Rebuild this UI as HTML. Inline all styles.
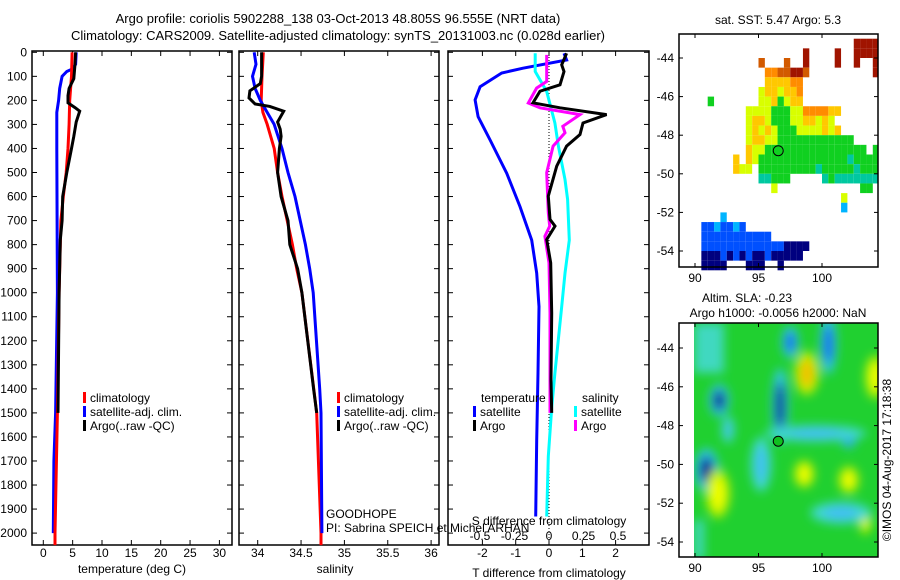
<!DOCTYPE html>
<html><head><meta charset="utf-8"><title>Argo profile</title>
<style>
html,body{margin:0;padding:0;background:#fff;}
svg{display:block;font-family:"Liberation Sans",sans-serif;}
text{font-size:12px;fill:#000;}
</style></head>
<body>
<svg id="fig" width="900" height="580" viewBox="0 0 900 580">
<defs>
<filter id="blur" x="-50%" y="-50%" width="200%" height="200%"><feGaussianBlur stdDeviation="5"/></filter>
<clipPath id="clipM2"><rect x="694" y="323" width="184" height="234"/></clipPath>
</defs>
<text x="338" y="23" text-anchor="middle" style="font-size:13px">Argo profile: coriolis 5902288_138 03-Oct-2013 48.805S 96.555E (NRT data)</text>
<text x="338" y="40" text-anchor="middle" style="font-size:13px">Climatology: CARS2009. Satellite-adjusted climatology: synTS_20131003.nc (0.028d earlier)</text>
<g id="plots"></g>
<text x="778" y="24" text-anchor="middle">sat. SST: 5.47 Argo: 5.3</text>
<text x="747" y="302" text-anchor="middle">Altim. SLA: -0.23</text>
<text x="778" y="317" text-anchor="middle">Argo h1000: -0.0056 h2000: NaN</text>
<text transform="translate(891,460) rotate(-90)" text-anchor="middle">©IMOS 04-Aug-2017 17:18:38</text>
</svg>
<script>
// ---- data ----
const depthTicks = [0,100,200,300,400,500,600,700,800,900,1000,1100,1200,1300,1400,1500,1600,1700,1800,1900,2000];
const tempTicks = [0,5,10,15,20,25,30];
const salTicks = [34,34.5,35,35.5,36];
const tdiffTicks = [-2,-1,0,1,2];
const sdiffTicks = [-0.5,-0.25,0,0.25,0.5];
const sdiffLabels = ["-0.5","-0.25","0","0.25","0.5"];

const tClimDepth = [0,100,200,300,400,500,600,700,800,1000,1500,2000,2050];
const tClimVal   = [4.9,4.8,4.5,4.4,4.2,3.9,3.4,3.0,2.9,2.7,2.4,2.0,2.0];
const tSatDepth  = [0,50,70,80,100,150,200,250,400,1000,1500,1700,2000];
const tSatVal    = [5.6,5.5,4.9,4.0,3.2,2.8,2.6,2.3,2.3,2.4,2.1,1.8,1.7];
const tArgoDepth = [0,50,110,150,180,210,230,245,290,350,400,500,600,700,780,1000,1500];
const tArgoVal   = [5.5,5.4,5.2,4.4,4.2,4.2,5.4,6.2,5.6,5.2,4.8,4.0,3.3,3.2,2.9,2.7,2.5];

const sClimDepth = [0,100,200,250,300,400,500,600,700,800,900,1000,1500,2000,2050];
const sClimVal   = [34.065,34.05,34.04,34.06,34.11,34.19,34.23,34.28,34.34,34.40,34.45,34.51,34.68,34.73,34.73];
const sSatDepth  = [0,50,100,150,200,250,300,400,500,600,700,800,900,1000,1400,1500,2000];
const sSatVal    = [33.96,33.98,33.94,33.97,34.03,34.11,34.19,34.28,34.35,34.43,34.49,34.55,34.60,34.64,34.715,34.73,34.74];
const sArgoDepth = [0,100,130,160,190,215,225,245,290,320,350,400,500,600,700,800,900,1000,1400,1500];
const sArgoVal   = [34.045,34.045,34.03,33.91,33.90,33.97,34.14,34.30,34.23,34.26,34.27,34.25,34.23,34.27,34.35,34.37,34.46,34.51,34.645,34.68];

const dtSatDepth = [4,32,66,86,143,198,268,365,503,642,781,919,1058,1335,1613,1931];
const dtSatVal   = [0.45,0.53,-0.78,-1.42,-2.07,-2.22,-2.13,-1.77,-1.27,-0.87,-0.52,-0.37,-0.30,-0.33,-0.37,-0.40];
const dtArgoDepth = [4,52,80,135,162,210,231,259,294,342,390,474,598,695,723,779,876,1085,1362,1500];
const dtArgoVal   = [0.53,0.38,0.45,0.33,-0.27,-0.48,0.33,1.73,1.02,0.93,0.53,0.23,-0.02,0.03,0.18,-0.07,0.05,0.08,0.06,0.08];
const dsArgoDepth = [11,121,149,211,231,259,308,335,390,501,668,723,765,876,1085,1500];
const dsArgoVal   = [-0.017,-0.017,-0.09,-0.15,-0.065,0.225,0.10,0.116,0.03,-0.017,-0.005,0.005,-0.03,0,0.007,0.007];
const dsSatDepth = [4,80,163,294,390,529,612,781,919,1058,1335,1473,1681,1931];
const dsSatVal   = [-0.1,-0.1,-0.017,0.043,0.068,0.116,0.135,0.147,0.116,0.092,0.043,0.02,-0.005,-0.017];

// SST map grid: rows lat -43 .. -55 step 0.5, cols lon 89 .. 104.5 step 0.5 ; '.' = no data, 0-9 colour index
const sstRows = [
"...........................9999",
"...................9....9..9999",
"............8...8..9....9..9..9",
".............7788998..........9",
".............666677............",
"............5665667............",
"....4.......5564566............",
"..........555544455777766......",
"..........56654445566565.......",
"..........565654445555656......",
"..........56655444444444444....",
"..........6554444444444444444.4",
"........6.654444444444444434444",
"........655.4444444443444443444",
"............33444.....343333333",
"..............5.............44.",
".........................5.....",
".........................2.....",
"......2........................",
"...1121121.....................",
"...11111111111.................",
"...11111111111110000...........",
"...0001010100100000............",
"...0000...000..0..............."
];
const sstColors = ["#00007f","#0050ff","#00b4ff","#00c8a0","#10d020","#d8ff00","#ffc800","#ff8c00","#d25a00","#a01400"];
const sstLat0 = -43, sstLon0 = 89, sstStep = 0.5;

// SLA map anomaly blobs: lon, lat, rx(deg), ry(deg), kind
const slaLon = [90.9,91.9,96.7,97.5,100.5,102.1,98.8,98.6,102.1,104.2,91.8,103.4,95.2,99.5,92.6,101.5];
const slaLat = [-50.3,-46.7,-47.0,-43.7,-43.8,-48.6,-45.3,-50.5,-50.8,-45.5,-51.5,-52.9,-50.0,-48.4,-48.2,-52.5];
const slaRx  = [0.6,0.5,0.4,0.4,0.4,0.4,0.6,0.5,0.5,0.5,0.6,0.3,0.5,2.5,0.3,1.5];
const slaRy  = [0.8,0.6,1.4,0.6,1.1,0.4,0.8,0.5,0.5,0.8,0.9,0.5,1.0,0.3,0.5,0.4];
const slaKind = ["deep","deep","deep","blue","blue","blue","warm","yellow","yellow","yellow","yellow","yellow","cyan","cyan","cyan","cyan"];

// ---- helpers ----
const NS = "http://www.w3.org/2000/svg";
const root = document.getElementById('plots');
function mk(tag, attrs, parent){ const e=document.createElementNS(NS,tag); for(const k in attrs) e.setAttribute(k,attrs[k]); (parent||root).appendChild(e); return e; }
function txt(x,y,s,anchor,parent){ const t=mk('text',{x:x,y:y,'text-anchor':anchor||'middle'},parent); t.textContent=s; return t; }

const top0 = 51, bot = 545;
function yD(d){ return 52.3 + d*0.2404; }
const xT = v => 43.3 + v*5.87;
const xS = v => 257.7 + (v-34)*86.7;
const xDT = v => 549 + v*33.3;
const xDS = v => 549 + v*138;

function frame(x0,x1,name){
  const r = mk('rect',{x:x0,y:top0,width:x1-x0,height:bot-top0,fill:'none',stroke:'#000','stroke-width':1.5});
  
  
  depthTicks.forEach(d=>{ mk('line',{x1:x0,x2:x0+5,y1:yD(d),y2:yD(d),stroke:'#000'}); mk('line',{x1:x1-5,x2:x1,y1:yD(d),y2:yD(d),stroke:'#000'}); });
}
function xticks(vals,fx,labels,ly,name){
  vals.forEach((v,i)=>{ const x=fx(v);
    mk('line',{x1:x,x2:x,y1:bot,y2:bot-5,stroke:'#000'}); mk('line',{x1:x,x2:x,y1:top0,y2:top0+5,stroke:'#000'});
    const t=txt(x,ly,labels?labels[i]:String(v));
    
    
  });
}
function line(depths,vals,fx,color,name){
  const pts = depths.map((d,i)=>fx(vals[i]).toFixed(1)+','+yD(d).toFixed(1)).join(' ');
  const p = mk('polyline',{points:pts,fill:'none',stroke:color,'stroke-width':3,'stroke-linejoin':'miter'});
  
  
}
function legendEntry(x,y,color,label,name){
  const g = mk('g',{});
  
  
  mk('rect',{x:x,y:y-10,width:3,height:11,fill:color},g);
  txt(x+7,y,label,'start',g);
}

// ---- panel 1: temperature ----
frame(32,232,'temperature-panel');
depthTicks.forEach(d=>{ const t=txt(27,yD(d)+4,String(d),'end');
  
   });
xticks(tempTicks,xT,null,557,'temperature');
const tt=txt(132,573,'temperature (deg C)');


line(tSatDepth,tSatVal,xT,'#0000ff','temp-satellite-clim-line');
line(tClimDepth,tClimVal,xT,'#ff0000','temp-climatology-line');
line(tArgoDepth,tArgoVal,xT,'#000000','temp-argo-line');
legendEntry(83,402,'#ff0000','climatology','temp-legend-climatology');
legendEntry(83,416,'#0000ff','satellite-adj. clim.','temp-legend-satellite');
legendEntry(83,430,'#000000','Argo(..raw -QC)','temp-legend-argo');

// ---- panel 2: salinity ----
frame(239,439,'salinity-panel');
xticks(salTicks,xS,null,557,'salinity');
const st=txt(335,573,'salinity');


line(sClimDepth,sClimVal,xS,'#ff0000','sal-climatology-line');
line(sSatDepth,sSatVal,xS,'#0000ff','sal-satellite-clim-line');
line(sArgoDepth,sArgoVal,xS,'#000000','sal-argo-line');
legendEntry(337,402,'#ff0000','climatology','sal-legend-climatology');
legendEntry(337,416,'#0000ff','satellite-adj. clim.','sal-legend-satellite');
legendEntry(337,430,'#000000','Argo(..raw -QC)','sal-legend-argo');

// ---- panel 3: differences ----
frame(448,649,'difference-panel');
mk('line',{x1:549,x2:549,y1:top0,y2:bot,stroke:'#000','stroke-dasharray':'1,2'});
tdiffTicks.forEach(v=>{ const x=xDT(v); mk('line',{x1:x,x2:x,y1:bot,y2:bot-5,stroke:'#000'}); mk('line',{x1:x,x2:x,y1:top0,y2:top0+5,stroke:'#000'});
  const t=txt(x,557,String(v));   });
sdiffTicks.forEach((v,i)=>{ const t=txt(xDS(v),540,sdiffLabels[i]);   });
line(dtSatDepth,dtSatVal,xDT,'#0000ff','tdiff-satellite-line');
line(dsSatDepth,dsSatVal,xDS,'#00ffff','sdiff-satellite-line');
line(dsArgoDepth,dsArgoVal,xDS,'#ff00ff','sdiff-argo-line');
line(dtArgoDepth,dtArgoVal,xDT,'#000000','tdiff-argo-line');
const lt=txt(481,402,'temperature','start');  
const ls=txt(582,402,'salinity','start');  
legendEntry(473,416,'#0000ff','satellite','legend-temp-satellite');
legendEntry(473,430,'#000000','Argo','legend-temp-argo');
legendEntry(574,416,'#00ffff','satellite','legend-sal-satellite');
legendEntry(574,430,'#ff00ff','Argo','legend-sal-argo');
const sd=txt(549,525,'S difference from climatology');  
const td=txt(549,577,'T difference from climatology');  
const gh=txt(326,518,'GOODHOPE','start');  
const pi=txt(326,532,'PI: Sabrina SPEICH et Michel ARHAN','start');  

// ---- maps ----
const mx0=679, mx1=878;
const mLon = v => 695 + (v-90)*12.7;
const m1Lat = v => 58 + (-44 - v)*19.3;
const m2Lat = v => 348 + (-44 - v)*19.4;
function mapAxes(y0,y1,fLat,name){
  const r=mk('rect',{x:mx0,y:y0,width:mx1-mx0,height:y1-y0,fill:'none',stroke:'#000','stroke-width':1.5});
  
  
  [-44,-46,-48,-50,-52,-54].forEach(l=>{ const y=fLat(l);
    mk('line',{x1:mx0,x2:mx0+4,y1:y,y2:y,stroke:'#000'}); mk('line',{x1:mx1-4,x2:mx1,y1:y,y2:y,stroke:'#000'});
    const t=txt(674,y+4,String(l),'end');   });
  [90,95,100].forEach(l=>{ const x=mLon(l);
    mk('line',{x1:x,x2:x,y1:y1,y2:y1-4,stroke:'#000'}); mk('line',{x1:x,x2:x,y1:y0,y2:y0+4,stroke:'#000'});
    const t=txt(x,y1+15,String(l));   });
}
// SST cells
sstRows.forEach((row,ri)=>{
  for(let ci=0; ci<row.length; ci++){
    const ch=row[ci]; if(ch==='.') continue;
    const lon=sstLon0+ci*sstStep, lat=sstLat0-ri*sstStep;
    const x=Math.max(mx0,mLon(lon)), xe=Math.min(mx1,mLon(lon+sstStep));
    const y=Math.max(34,m1Lat(lat)), ye=m1Lat(lat-sstStep);
    const c=mk('rect',{x:x,y:y,width:Math.max(0,xe-x),height:ye-y,fill:sstColors[+ch]});
    
    
  }
});
mapAxes(34,267,m1Lat,'sst-map');
const p1=mk('circle',{cx:mLon(96.555),cy:m1Lat(-48.805),r:5,fill:'#10d020',stroke:'#000'});



// SLA map
const slaBg=mk('rect',{x:694,y:323,width:184,height:234,fill:'#20d030'});


const g2=mk('g',{'clip-path':'url(#clipM2)'});
const gb=mk('g',{filter:'url(#blur)'},g2);
mk('rect',{x:694,y:323,width:30,height:50,fill:'#40d8c0'},gb);
mk('rect',{x:694,y:520,width:10,height:40,fill:'#40d8c0'},gb);
const outer={deep:'#30c8e8',blue:'#30c8e8',cyan:'#40d8d0',warm:'#c0f000',yellow:'#b8f000'};
const inner={deep:'#00008f',blue:'#1060f0',cyan:'#40c0f0',warm:'#f0c000',yellow:'#f0ff00'};
slaLon.forEach((lon,i)=>{
  const cx=mLon(lon), cy=m2Lat(slaLat[i]), rx=slaRx[i]*12.7, ry=slaRy[i]*19.4;
  const a=mk('ellipse',{cx:cx,cy:cy,rx:rx*1.6,ry:ry*1.4,fill:outer[slaKind[i]]},gb);
  
  
  const b=mk('ellipse',{cx:cx,cy:cy,rx:rx*0.9,ry:ry*0.9,fill:inner[slaKind[i]]},gb);
  
  
});
mapAxes(323,557,m2Lat,'sla-map');
const p2=mk('circle',{cx:mLon(96.555),cy:m2Lat(-48.805),r:5,fill:'#10c020',stroke:'#000'});


</script>
</body></html>
